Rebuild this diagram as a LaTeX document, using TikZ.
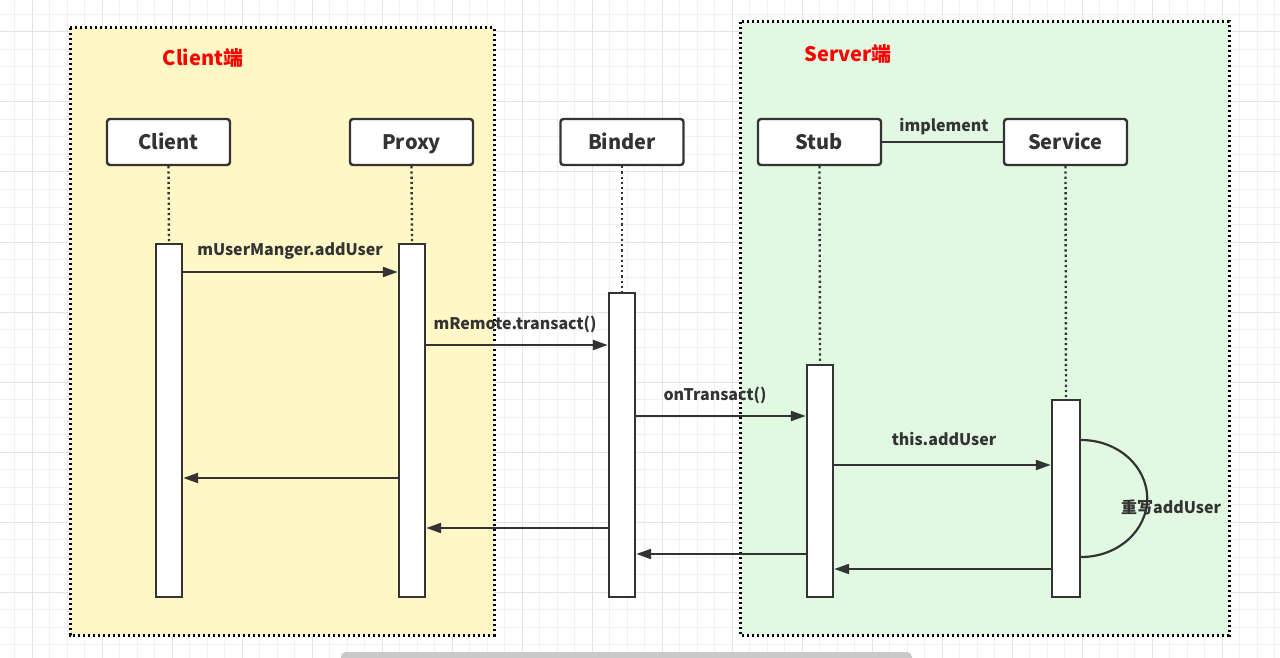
\documentclass[tikz,border=0pt]{standalone}
\usepackage{fontspec}
\setmainfont{Noto Sans CJK SC}
\usetikzlibrary{arrows.meta}
\definecolor{ink}{HTML}{333333}
\definecolor{clientbg}{HTML}{FFF8C6}
\definecolor{serverbg}{HTML}{E1F9E2}
\definecolor{gridminor}{HTML}{F0F0F0}
\definecolor{gridmajor}{HTML}{E4E4E4}
\definecolor{scroll}{HTML}{C9C9C9}
\tikzset{
  region/.style={draw=black, line width=3pt, dash pattern=on 2.4pt off 2.6pt},
  lifebox/.style={draw=ink, fill=white, line width=2.4pt, rounded corners=3pt,
    minimum width=123pt, minimum height=46pt, inner sep=0pt, text=ink,
    text height=15.5pt, text depth=0pt,
    font=\fontsize{20}{24}\selectfont\bfseries},
  actbar/.style={draw=ink, fill=white, line width=2.4pt, minimum width=26pt, inner sep=0pt},
  lifeline/.style={draw=ink, line width=2.4pt, dash pattern=on 2.2pt off 3pt},
  msg/.style={draw=ink, line width=2.2pt, -{Triangle[length=15pt,width=10pt]}},
  plain/.style={draw=ink, line width=2.2pt},
  lbl/.style={text=ink, font=\fontsize{16}{19}\selectfont\bfseries, inner sep=0pt, yshift=-2pt},
  title/.style={text=red, font=\fontsize{20}{24}\selectfont\bfseries, inner sep=0pt}
}
\begin{document}
\begin{tikzpicture}[x=1pt,y=-1pt]
\useasboundingbox (0,0) rectangle (1280,658);
\fill[white] (0,0) rectangle (1280,658);
% grid
\foreach \i in {0,...,73} {
  \pgfmathsetmacro{\gx}{14.5+17.5*\i}
  \pgfmathtruncatemacro{\m}{mod(\i,4)}
  \ifnum\m=1 \draw[gridmajor, line width=1pt] (\gx,0) -- (\gx,658);
  \else \draw[gridminor, line width=1pt] (\gx,0) -- (\gx,658); \fi
}
\foreach \j in {0,...,37} {
  \pgfmathsetmacro{\gy}{14.5+17.5*\j}
  \pgfmathtruncatemacro{\m}{mod(\j,4)}
  \ifnum\m=1 \draw[gridmajor, line width=1pt] (0,\gy) -- (1280,\gy);
  \else \draw[gridminor, line width=1pt] (0,\gy) -- (1280,\gy); \fi
}
% regions
\fill[clientbg] (70,28) rectangle (494,635);
\draw[region] (70,28) rectangle (494,635);
\fill[serverbg] (740,22) rectangle (1229,635);
\draw[region] (740,22) rectangle (1229,635);
\node[title] (ctitle) at (203,57.5) {Client端};
\node[title] (stitle) at (848,53.5) {Server端};
% lifeline heads
\node[lifebox] (client) at (168.5,142) {Client};
\node[lifebox] (proxy) at (411.5,142) {Proxy};
\node[lifebox] (binder) at (622,142) {Binder};
\node[lifebox] (stub) at (819.5,142) {Stub};
\node[lifebox] (service) at (1065.5,142) {Service};
% activation bars
\node[actbar, minimum height=353pt] (cbar) at (169,420.5) {};
\node[actbar, minimum height=353pt] (pbar) at (412,420.5) {};
\node[actbar, minimum height=304pt] (bbar) at (622,445) {};
\node[actbar, minimum height=232pt] (tbar) at (820,481) {};
\node[actbar, minimum height=197pt, minimum width=28pt] (vbar) at (1066,498.5) {};
% lifelines
\draw[lifeline] (client.south) -- (cbar.north);
\draw[lifeline] (proxy.south) -- (pbar.north);
\draw[lifeline] (binder.south) -- (bbar.north);
\draw[lifeline] (stub.south) -- (tbar.north);
\draw[lifeline] (service.south) -- (vbar.north);
% implement
\draw[plain] (stub.east) -- (service.west);
\node[lbl] (impl) at (944,125) {implement};
% messages
\draw[msg] (cbar.east |- 0,272) -- (pbar.west |- 0,272);
\node[lbl] (m1) at (290,249) {mUserManger.addUser};
\draw[msg] (pbar.east |- 0,345) -- (bbar.west |- 0,345);
\node[lbl] (m2) at (515,322) {mRemote.transact()};
\draw[msg] (bbar.east |- 0,416) -- (tbar.west |- 0,416);
\node[lbl] (m3) at (715,393) {onTransact()};
\draw[msg] (tbar.east |- 0,465) -- (vbar.west |- 0,465);
\node[lbl] (m4) at (944,437) {this.addUser};
\draw[msg] (pbar.west |- 0,478) -- (cbar.east |- 0,478);
\draw[msg] (bbar.west |- 0,528) -- (pbar.east |- 0,528);
\draw[msg] (tbar.west |- 0,554) -- (bbar.east |- 0,554);
\draw[msg] (vbar.west |- 0,569) -- (tbar.east |- 0,569);
% self call
\draw[plain] (vbar.east |- 0,440) arc[start angle=-90, end angle=90, x radius=66, y radius=58.5];
\node[lbl] (m5) at (1171,505) {重写addUser};
% scrollbar
\fill[scroll, rounded corners=5pt] (341,652) rectangle (912,668);
\end{tikzpicture}
\end{document}
